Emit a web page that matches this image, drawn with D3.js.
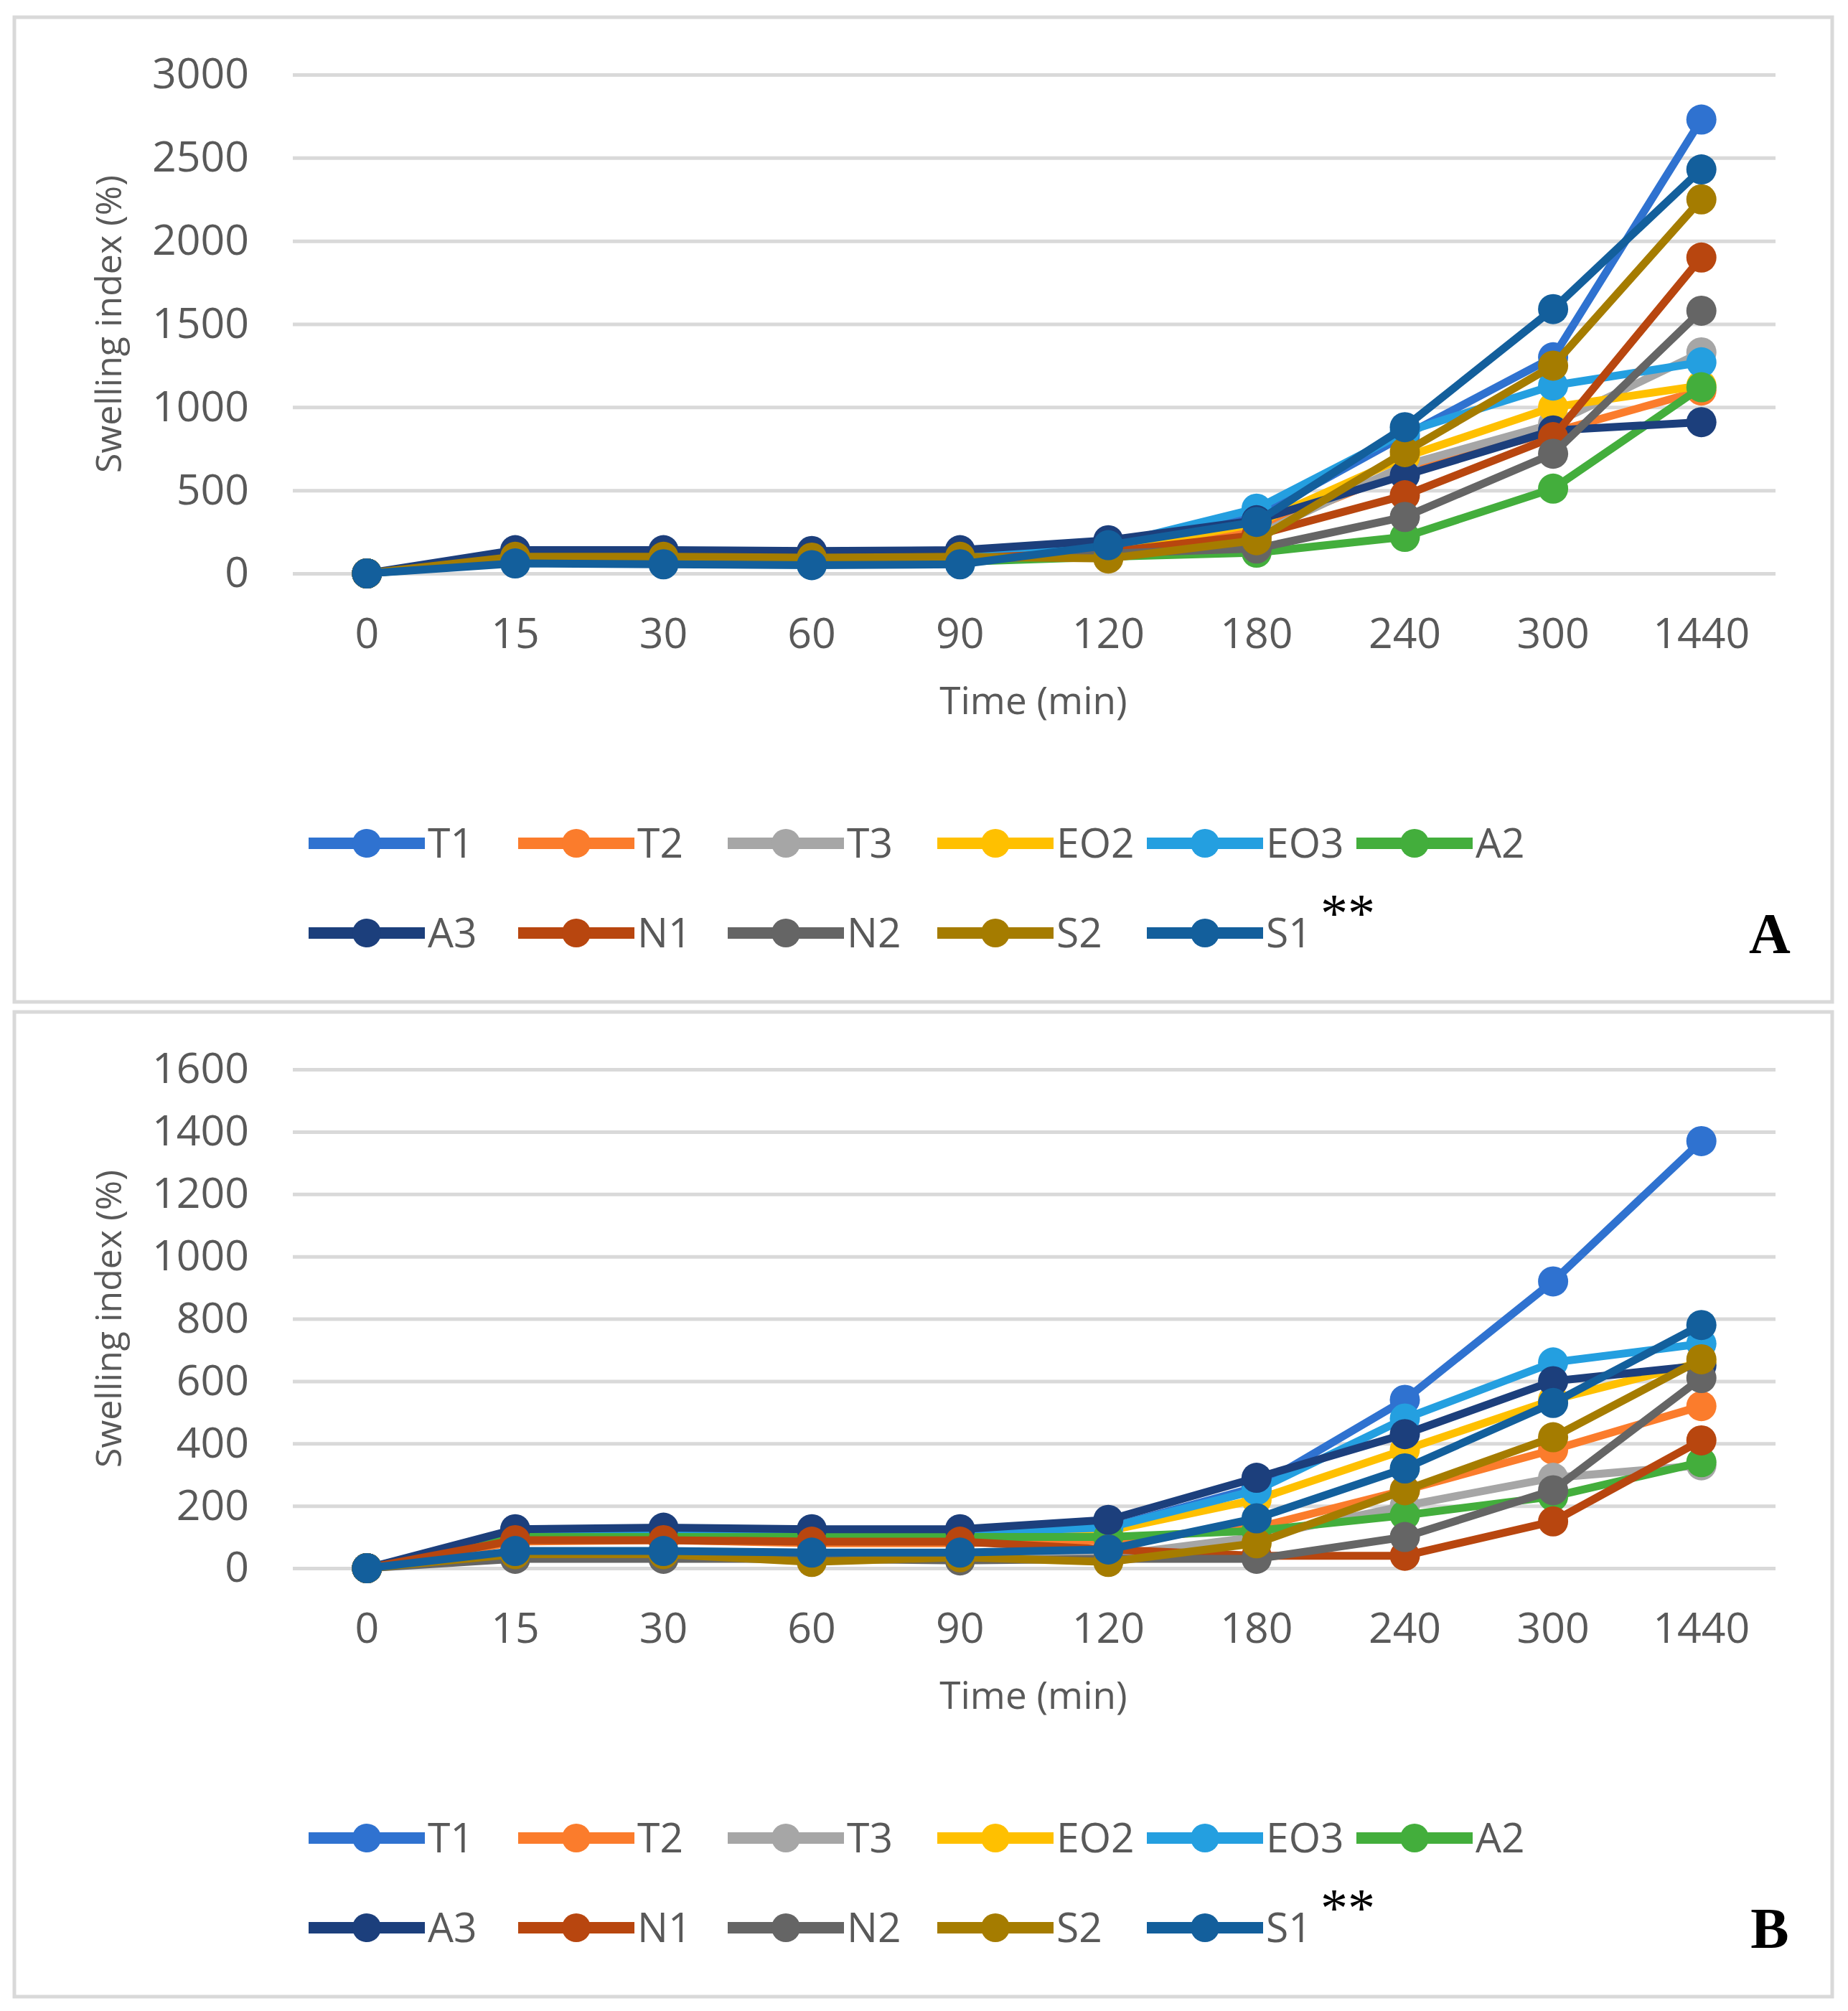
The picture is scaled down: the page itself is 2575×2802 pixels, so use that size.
<!DOCTYPE html>
<meta charset="utf-8">
<html>
<head>
    <script src="https://d3js.org/d3.v7.min.js"></script>
    <style>
        body { margin: 0; background: #fff; }
        text { font-family: "Open Sans", "Noto Sans", sans-serif; fill: #595959; }
    </style>
</head>
<body>
<div id="chart"></div>
<script>
// x categories (time, min)
var times = ["0", "15", "30", "60", "90", "120", "180", "240", "300", "1440"];

var seriesNames = ["T1", "T2", "T3", "EO2", "EO3", "A2", "A3", "N1", "N2", "S2", "S1"];
var seriesColors = ["#2f72d0", "#fb7c2c", "#a6a6a6", "#ffc000", "#249fe0", "#43ae3c",
                    "#1c3f7c", "#b8460f", "#656565", "#a57c00", "#135f9c"];

// panel A values, one array per series
var aT1  = [0, 100, 100, 95, 95, 160, 340, 830, 1300, 2730];
var aT2  = [0, 90, 85, 80, 85, 120, 260, 620, 850, 1100];
var aT3  = [0, 80, 80, 75, 80, 110, 230, 650, 900, 1330];
var aEO2 = [0, 100, 95, 90, 95, 140, 300, 700, 1000, 1130];
var aEO3 = [0, 110, 110, 105, 110, 170, 390, 850, 1130, 1270];
var aA2  = [0, 70, 70, 65, 70, 100, 125, 220, 510, 1120];
var aA3  = [0, 140, 140, 135, 140, 200, 320, 590, 860, 910];
var aN1  = [0, 95, 95, 90, 90, 130, 230, 470, 820, 1900];
var aN2  = [0, 80, 80, 75, 80, 120, 150, 340, 720, 1580];
var aS2  = [0, 100, 100, 95, 100, 90, 200, 730, 1250, 2250];
var aS1  = [0, 60, 55, 50, 55, 170, 310, 880, 1590, 2430];

// panel B values
var bT1  = [0, 110, 115, 110, 110, 130, 260, 540, 920, 1370];
var bT2  = [0, 85, 90, 80, 80, 90, 130, 250, 380, 520];
var bT3  = [0, 40, 40, 35, 35, 40, 100, 200, 290, 330];
var bEO2 = [0, 110, 110, 105, 105, 120, 220, 380, 540, 660];
var bEO3 = [0, 115, 115, 110, 115, 130, 250, 480, 660, 720];
var bA2  = [0, 100, 100, 100, 100, 100, 120, 170, 230, 340];
var bA3  = [0, 125, 130, 125, 125, 155, 290, 430, 600, 650];
var bN1  = [0, 90, 90, 85, 85, 60, 40, 40, 150, 410];
var bN2  = [0, 30, 30, 30, 25, 30, 30, 100, 250, 610];
var bS2  = [0, 45, 45, 20, 35, 20, 80, 250, 420, 670];
var bS1  = [0, 55, 55, 50, 50, 60, 160, 320, 530, 780];

var yTicksA = [0, 500, 1000, 1500, 2000, 2500, 3000];
var yTicksB = [0, 200, 400, 600, 800, 1000, 1200, 1400, 1600];

var panels = [
    { label: "A", top: 0, yMax: 3000, ticks: yTicksA,
      values: [aT1, aT2, aT3, aEO2, aEO3, aA2, aA3, aN1, aN2, aS2, aS1] },
    { label: "B", top: 1386, yMax: 1600, ticks: yTicksB,
      values: [bT1, bT2, bT3, bEO2, bEO3, bA2, bA3, bN1, bN2, bS2, bS1] }
];

var W = 2575, H = 2802;
var svg = d3.select("#chart").append("svg")
    .attr("width", W)
    .attr("height", H);

svg.append("rect").attr("width", W).attr("height", H).attr("fill", "#fff");

var plotLeft = 408, plotRight = 2474;
var plotTop = 104, plotBottom = 799;

var x = d3.scaleBand()
    .domain(times)
    .range([plotLeft, plotRight]);

panels.forEach(function (p) {
    var g = svg.append("g")
        .attr("transform", "translate(0," + p.top + ")");

    // frame
    g.append("rect")
        .attr("x", 20).attr("y", 24)
        .attr("width", 2533).attr("height", 1372)
        .attr("fill", "none")
        .attr("stroke", "#d9d9d9")
        .attr("stroke-width", 5);

    var y = d3.scaleLinear()
        .domain([0, p.yMax])
        .range([plotBottom, plotTop]);

    // y axis with gridlines
    var yAxis = g.append("g")
        .attr("transform", "translate(" + plotLeft + ",0)")
        .call(d3.axisLeft(y).tickValues(p.ticks).tickFormat(d3.format("d"))
            .tickSize(-(plotRight - plotLeft)).tickPadding(61));
    yAxis.select(".domain").remove();
    yAxis.selectAll("line").attr("stroke", "#d9d9d9").attr("stroke-width", 5);
    yAxis.selectAll("text")
        .style("font-size", "59px")
        .attr("fill", "#595959");

    // x axis labels
    var xAxis = g.append("g")
        .attr("transform", "translate(0," + plotBottom + ")")
        .call(d3.axisBottom(x).tickSize(0).tickPadding(62));
    xAxis.select(".domain").remove();
    xAxis.selectAll("text")
        .style("font-size", "59px")
        .attr("fill", "#595959");

    // axis titles
    g.append("text")
        .attr("transform", "translate(151," + (plotTop + plotBottom) / 2 + ") rotate(-90)")
        .attr("text-anchor", "middle")
        .attr("dy", "0.35em")
        .style("font-size", "50px")
        .text("Swelling index (%)");

    g.append("text")
        .attr("x", 1440).attr("y", 995)
        .attr("text-anchor", "middle")
        .style("font-size", "53px")
        .text("Time (min)");

    var line = d3.line()
        .x(function (d, i) { return x(times[i]) + x.bandwidth() / 2; })
        .y(function (d) { return y(d); });

    // series
    p.values.forEach(function (vals, k) {
        var s = g.append("g");
        s.append("path")
            .datum(vals)
            .attr("d", line)
            .attr("fill", "none")
            .attr("stroke", seriesColors[k])
            .attr("stroke-width", 11)
            .attr("stroke-linejoin", "round");
        s.selectAll("circle")
            .data(vals)
            .enter()
            .append("circle")
            .attr("cx", function (d, i) { return x(times[i]) + x.bandwidth() / 2; })
            .attr("cy", function (d) { return y(d); })
            .attr("r", 21)
            .attr("fill", seriesColors[k]);
    });

    // legend
    var leg = g.append("g");
    seriesNames.forEach(function (name, k) {
        var row = k < 6 ? 0 : 1;
        var col = k < 6 ? k : k - 6;
        var lx = 430 + col * 292;
        var ly = 1175 + row * 125;
        leg.append("line")
            .attr("x1", lx).attr("x2", lx + 162)
            .attr("y1", ly).attr("y2", ly)
            .attr("stroke", seriesColors[k])
            .attr("stroke-width", 16);
        leg.append("circle")
            .attr("cx", lx + 81).attr("cy", ly)
            .attr("r", 20)
            .attr("fill", seriesColors[k]);
        leg.append("text")
            .attr("x", lx + 166).attr("y", ly)
            .attr("dy", "0.35em")
            .style("font-size", "57px")
            .text(name);
    });

    leg.append("text")
        .attr("x", 1840).attr("y", 1298)
        .style("font-family", "'Liberation Serif', serif")
        .style("font-size", "76px")
        .style("fill", "#000")
        .text("**");

    g.append("text")
        .attr("x", 2466).attr("y", 1328)
        .attr("text-anchor", "middle")
        .style("font-family", "'Liberation Serif', serif")
        .style("font-weight", "bold")
        .style("font-size", "80px")
        .style("fill", "#000")
        .text(p.label);
});
</script>
</body>
</html>
